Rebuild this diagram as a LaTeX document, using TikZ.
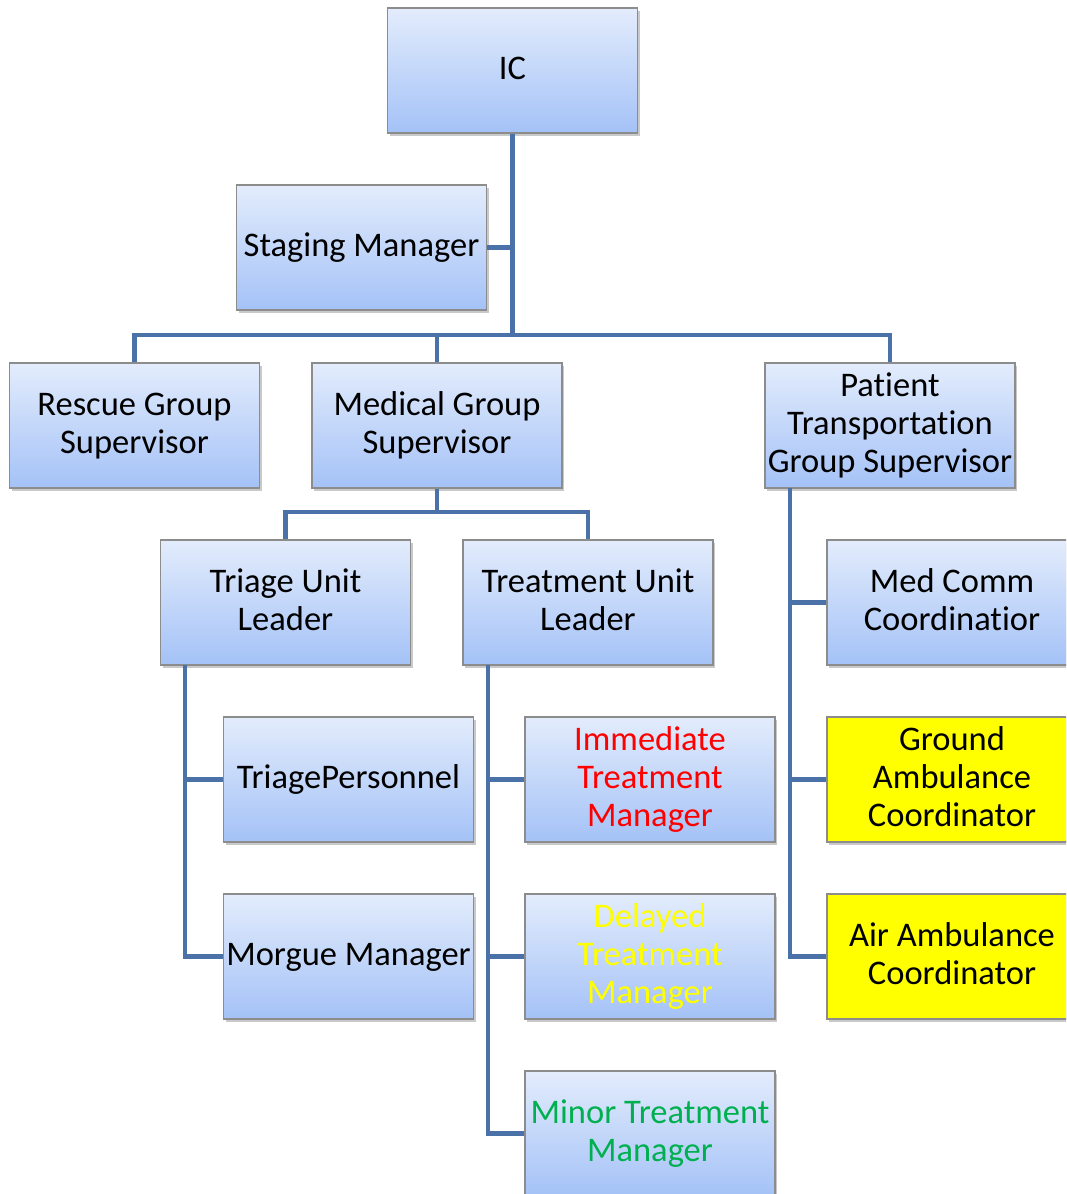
\documentclass[tikz,border=0pt]{standalone}
\usepackage{fontspec}
\setmainfont{Carlito}[Ligatures={NoCommon,NoRare,NoContextual}]
\usetikzlibrary{shadows}
\definecolor{conncol}{HTML}{4A72A8}
\definecolor{boxtop}{HTML}{E3ECFC}
\definecolor{boxbot}{HTML}{A4C2F7}
\definecolor{boxline}{HTML}{8C8C8C}
\definecolor{redtxt}{HTML}{FF0000}
\definecolor{yellowtxt}{HTML}{FFFF00}
\definecolor{greentxt}{HTML}{00B050}
\newcommand\firstln{\rule{0pt}{28.6pt}}
\tikzset{
  orgbox/.style={draw=boxline, line width=1.2pt, top color=boxtop, bottom color=boxbot,
    minimum width=250pt, minimum height=125pt, inner sep=0pt, align=center,
    font=\fontsize{34.5}{38}\selectfont,
    execute at end node=\strut,
    drop shadow={shadow xshift=2pt, shadow yshift=-3pt, opacity=0.35, fill=black!60}},
  yelbox/.style={orgbox, top color=yellow, bottom color=yellow},
  conn/.style={draw=conncol, line width=4.5pt, line join=miter}
}
\begin{document}
\begin{tikzpicture}[x=1pt,y=-1pt]
\useasboundingbox (0,0) rectangle (1066,1194);
\clip (0,0) rectangle (1066,1194);
\fill[white] (0,0) rectangle (1066,1194);
\coordinate (bus1) at (512.5,335);
\coordinate (bus2) at (437,512);
\coordinate (tri) at (185,665);
\coordinate (trt) at (488,665);
\coordinate (pat) at (790,488);
\node[orgbox] (IC) at (512.5,70.5) {\firstln IC};
\node[orgbox] (Staging) at (361.5,247.5) {\firstln Staging Manager};
\node[orgbox] (Rescue) at (134.5,425.5) {\firstln Rescue Group\\Supervisor};
\node[orgbox] (Medical) at (437,425.5) {\firstln Medical Group\\Supervisor};
\node[orgbox] (Patient) at (890,425.5) {\firstln Patient\\Transportation\\Group Supervisor};
\node[orgbox] (Triage) at (285.5,602.5) {\firstln Triage Unit\\Leader};
\node[orgbox] (Treatment) at (588,602.5) {\firstln Treatment Unit\\Leader};
\node[orgbox] (MedComm) at (952,602.5) {\firstln Med Comm\\Coordinatior};
\node[orgbox] (TriagePers) at (348.5,779.5) {\firstln TriagePersonnel};
\node[orgbox, text=redtxt] (Immediate) at (650,779.5) {\firstln Immediate\\Treatment\\Manager};
\node[yelbox] (Ground) at (952,779.5) {\firstln Ground\\Ambulance\\Coordinator};
\node[orgbox] (Morgue) at (348.5,956.5) {\firstln Morgue Manager};
\node[orgbox, text=yellowtxt] (Delayed) at (650,956.5) {\firstln Delayed\\Treatment\\Manager};
\node[yelbox] (Air) at (952,956.5) {\firstln Air Ambulance\\Coordinator};
\node[orgbox, text=greentxt] (Minor) at (650,1133.5) {\firstln Minor Treatment\\Manager};
\draw[conn] (IC.south) -- (bus1);
\draw[conn] (Staging.east) -- (Staging.east -| bus1);
\draw[conn] (bus1) -| (Rescue.north);
\draw[conn] (bus1) -| (Medical.north);
\draw[conn] (bus1) -| (Patient.north);
\draw[conn] (Medical.south) -- (bus2);
\draw[conn] (bus2) -| (Triage.north);
\draw[conn] (bus2) -| (Treatment.north);
\draw[conn] (tri) |- (TriagePers.west);
\draw[conn] (tri) |- (Morgue.west);
\draw[conn] (trt) |- (Immediate.west);
\draw[conn] (trt) |- (Delayed.west);
\draw[conn] (trt) |- (Minor.west);
\draw[conn] (pat) |- (MedComm.west);
\draw[conn] (pat) |- (Ground.west);
\draw[conn] (pat) |- (Air.west);
\end{tikzpicture}
\end{document}
